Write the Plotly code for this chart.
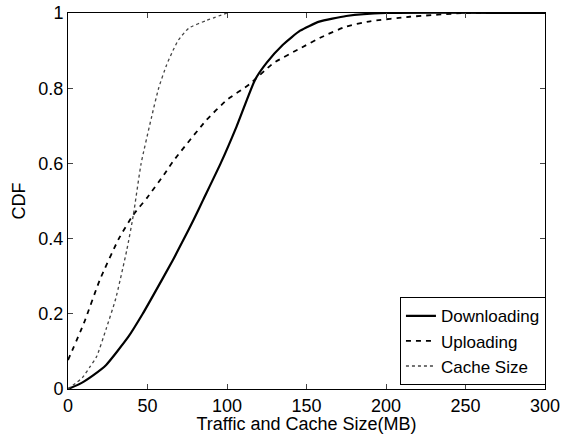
import plotly.graph_objects as go

# Downloading (solid)
down_x = [0, 8, 16, 24, 38, 47, 52, 66, 73, 79, 85, 96, 106, 117.6, 125, 135, 146, 158, 175, 200, 300]
down_y = [0, 0.015, 0.037, 0.064, 0.139, 0.2, 0.237, 0.343, 0.4, 0.45, 0.503, 0.6, 0.698, 0.822, 0.868, 0.915, 0.953, 0.977, 0.992, 1.0, 1.0]

# Uploading (dashed)
up_x = [0, 10, 20, 32, 41, 50, 61, 66, 87, 100, 114, 129, 146, 160, 175, 190, 215, 250, 300]
up_y = [0.077, 0.175, 0.29, 0.4, 0.463, 0.51, 0.574, 0.605, 0.715, 0.769, 0.81, 0.866, 0.906, 0.937, 0.964, 0.978, 0.99, 1.0, 1.0]

# Cache Size (dotted)
cache_x = [0, 9, 14, 18, 24, 30, 37, 41, 46, 52.6, 57, 62, 66, 69.4, 76, 87, 100]
cache_y = [0, 0.03, 0.06, 0.086, 0.16, 0.24, 0.37, 0.46, 0.6, 0.724, 0.80, 0.862, 0.90, 0.928, 0.96, 0.98, 1.0]

x_ticks = [0, 50, 100, 150, 200, 250, 300]
y_ticks = [0, 0.2, 0.4, 0.6, 0.8, 1]
y_tick_text = ["0", "0.2", "0.4", "0.6", "0.8", "1"]

FONT = "Liberation Sans, Arial, Helvetica, sans-serif"

fig = go.Figure()
fig.add_trace(go.Scatter(x=down_x, y=down_y, mode="lines", name="Downloading",
                         line=dict(color="black", width=2.2, shape="spline", smoothing=0.5)))
fig.add_trace(go.Scatter(x=up_x, y=up_y, mode="lines", name="Uploading",
                         line=dict(color="black", width=1.8, dash="5px,5px", shape="spline", smoothing=0.5)))
fig.add_trace(go.Scatter(x=cache_x, y=cache_y, mode="lines", name="Cache Size",
                         line=dict(color="#444444", width=1.3, dash="dot", shape="spline", smoothing=0.5)))

fig.update_layout(
    width=568, height=434,
    margin=dict(l=68, r=23, t=13, b=45, autoexpand=False),
    paper_bgcolor="white", plot_bgcolor="white",
    font=dict(family=FONT, size=18, color="black"),
    showlegend=True,
    legend=dict(x=1.002, y=0.01, xanchor="right", yanchor="bottom",
                bgcolor="white", bordercolor="black", borderwidth=1,
                font=dict(size=17), tracegroupgap=0),
)
fig.update_xaxes(range=[0, 300], tickvals=x_ticks, ticks="inside", ticklen=5,
                 showline=True, linecolor="black", linewidth=1, mirror="ticks",
                 showgrid=False, zeroline=False, automargin=False,
                 title=dict(text="Traffic and Cache Size(MB)", standoff=2, font=dict(size=18)))
fig.update_yaxes(range=[0, 1], tickvals=y_ticks, ticktext=y_tick_text, ticks="inside", ticklen=5,
                 showline=True, linecolor="black", linewidth=1, mirror="ticks",
                 showgrid=False, zeroline=False, automargin=False,
                 title=dict(text="CDF", standoff=8, font=dict(size=18)))

fig.write_html("out.html")
